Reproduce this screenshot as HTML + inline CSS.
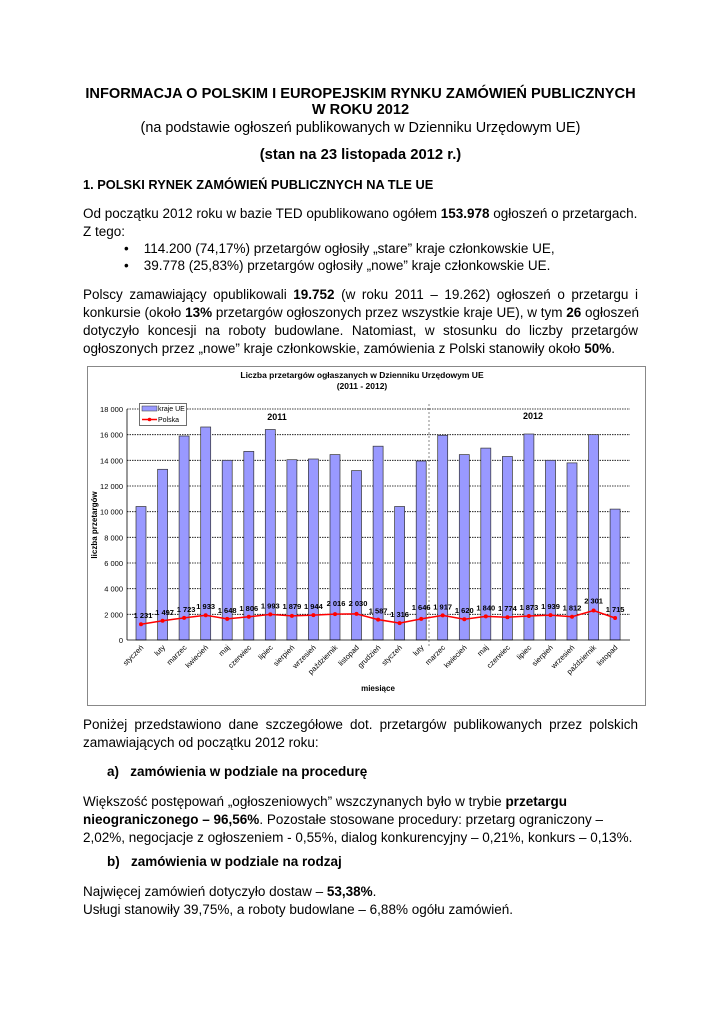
<!DOCTYPE html>
<html><head><meta charset="utf-8"><style>
body{margin:0;background:#fff;width:724px;height:1024px;position:relative;font-family:"Liberation Sans",Arial,sans-serif;color:#000;overflow:hidden}
.l{position:absolute;left:83px;width:555px;font-size:13.5px;line-height:18px;white-space:nowrap}
.c{text-align:center}
.j{text-align:justify;text-align-last:justify}
b{font-weight:bold}
svg{position:absolute;left:0;top:0}
</style></head><body>
<div class="l c" style="top:85px;font-weight:bold;font-size:14.6px">INFORMACJA O POLSKIM I EUROPEJSKIM RYNKU ZAMÓWIEŃ PUBLICZNYCH</div>
<div class="l c" style="top:101px;font-weight:bold;font-size:14.6px">W ROKU 2012</div>
<div class="l c" style="top:119px;font-size:14.4px">(na podstawie ogłoszeń publikowanych w Dzienniku Urzędowym UE)</div>
<div class="l c" style="top:146px;font-weight:bold;font-size:14.8px">(stan na 23 listopada 2012 r.)</div>
<div class="l" style="top:176px;font-weight:bold;font-size:12.8px">1. POLSKI RYNEK ZAMÓWIEŃ PUBLICZNYCH NA TLE UE</div>
<div class="l" style="top:205px">Od początku 2012 roku w bazie TED opublikowano ogółem <b>153.978</b> ogłoszeń o przetargach.</div>
<div class="l" style="top:223px">Z tego:</div>
<div class="l" style="top:240px;left:124px">•&nbsp;&nbsp;&nbsp;&nbsp;114.200 (74,17%) przetargów ogłosiły „stare” kraje członkowskie UE,</div>
<div class="l" style="top:257px;left:124px">•&nbsp;&nbsp;&nbsp;&nbsp;39.778 (25,83%) przetargów ogłosiły „nowe” kraje członkowskie UE.</div>
<div class="l j" style="top:286px">Polscy zamawiający opublikowali <b>19.752</b> (w roku 2011 – 19.262) ogłoszeń o przetargu i</div>
<div class="l j" style="top:304px">konkursie (około <b>13%</b> przetargów ogłoszonych przez wszystkie kraje UE), w tym <b>26</b> ogłoszeń</div>
<div class="l j" style="top:322px">dotyczyło koncesji na roboty budowlane. Natomiast, w stosunku do liczby przetargów</div>
<div class="l" style="top:340px">ogłoszonych przez „nowe” kraje członkowskie, zamówienia z Polski stanowiły około <b>50%</b>.</div>
<div class="l j" style="top:716px">Poniżej przedstawiono dane szczegółowe dot. przetargów publikowanych przez polskich</div>
<div class="l" style="top:734px">zamawiających od początku 2012 roku:</div>
<div class="l" style="top:763px;left:107px;font-weight:bold">a)&nbsp;&nbsp;&nbsp;zamówienia w podziale na procedurę</div>
<div class="l" style="top:793px">Większość postępowań „ogłoszeniowych” wszczynanych było w trybie <b>przetargu</b></div>
<div class="l" style="top:811px"><b>nieograniczonego – 96,56%</b>. Pozostałe stosowane procedury: przetarg ograniczony –</div>
<div class="l" style="top:829px">2,02%, negocjacje z ogłoszeniem - 0,55%, dialog konkurencyjny – 0,21%, konkurs – 0,13%.</div>
<div class="l" style="top:853px;left:107px;font-weight:bold">b)&nbsp;&nbsp;&nbsp;zamówienia w podziale na rodzaj</div>
<div class="l" style="top:883px">Najwięcej zamówień dotyczyło dostaw – <b>53,38%</b>.</div>
<div class="l" style="top:901px">Usługi stanowiły 39,75%, a roboty budowlane – 6,88% ogółu zamówień.</div>

<svg width="724" height="1024" font-family="Liberation Sans, Arial, sans-serif">
<rect x="87.5" y="366.5" width="558" height="339" fill="#fff" stroke="#888" stroke-width="1"/>
<text x="362" y="378" font-size="8.5" font-weight="bold" text-anchor="middle">Liczba przetargów ogłaszanych w Dzienniku Urzędowym UE</text>
<text x="362" y="389" font-size="8.5" font-weight="bold" text-anchor="middle">(2011 - 2012)</text>
<g stroke="#000" stroke-width="0.8" stroke-dasharray="1.5,1">
<line x1="127" x2="630" y1="409" y2="409"/><line x1="127" x2="630" y1="434.7" y2="434.7"/><line x1="127" x2="630" y1="460.3" y2="460.3"/><line x1="127" x2="630" y1="486" y2="486"/><line x1="127" x2="630" y1="511.7" y2="511.7"/><line x1="127" x2="630" y1="537.3" y2="537.3"/><line x1="127" x2="630" y1="563" y2="563"/><line x1="127" x2="630" y1="588.7" y2="588.7"/><line x1="127" x2="630" y1="614.3" y2="614.3"/>
</g>
<line x1="429" x2="429" y1="404" y2="648" stroke="#555" stroke-width="0.7" stroke-dasharray="2,2"/>
<g font-size="7.5" text-anchor="end">
<text x="123" y="412">18 000</text><text x="123" y="437.7">16 000</text><text x="123" y="463.3">14 000</text><text x="123" y="489">12 000</text><text x="123" y="514.7">10 000</text><text x="123" y="540.3">8 000</text><text x="123" y="566">6 000</text><text x="123" y="591.7">4 000</text><text x="123" y="617.3">2 000</text><text x="123" y="643">0</text>
</g>
<text transform="translate(97,525) rotate(-90)" font-size="8" font-weight="bold" text-anchor="middle">liczba przetargów</text>
<g fill="#9999ff" stroke="#333" stroke-width="0.7">
<rect x="136" y="506.5" width="10" height="133.5"/><rect x="157.6" y="469.3" width="10" height="170.7"/><rect x="179.1" y="436" width="10" height="204"/><rect x="200.7" y="427" width="10" height="213"/><rect x="222.2" y="460.3" width="10" height="179.7"/><rect x="243.8" y="451.4" width="10" height="188.6"/><rect x="265.3" y="429.5" width="10" height="210.5"/><rect x="286.9" y="459.7" width="10" height="180.3"/><rect x="308.4" y="459" width="10" height="181"/><rect x="330" y="454.6" width="10" height="185.4"/><rect x="351.5" y="470.6" width="10" height="169.4"/><rect x="373.1" y="446.2" width="10" height="193.8"/><rect x="394.6" y="506.5" width="10" height="133.5"/><rect x="416.2" y="461" width="10" height="179"/><rect x="437.7" y="435.3" width="10" height="204.7"/><rect x="459.3" y="454.6" width="10" height="185.4"/><rect x="480.8" y="448.1" width="10" height="191.9"/><rect x="502.4" y="456.5" width="10" height="183.5"/><rect x="523.9" y="434" width="10" height="206"/><rect x="545.5" y="460.3" width="10" height="179.7"/><rect x="567" y="462.9" width="10" height="177.1"/><rect x="588.6" y="434.7" width="10" height="205.3"/><rect x="610.1" y="509.1" width="10" height="130.9"/>
</g>
<line x1="127" x2="127" y1="409" y2="640" stroke="#000" stroke-width="0.8"/>
<line x1="127" x2="630" y1="640" y2="640" stroke="#000" stroke-width="0.8"/>
<polyline fill="none" stroke="#ff0000" stroke-width="1.5" points="141,624.2 162.6,620.8 184.1,617.9 205.7,615.2 227.2,618.9 248.8,616.8 270.3,614.4 291.9,615.9 313.4,615.1 335,614.1 356.5,613.9 378.1,619.6 399.6,623.1 421.2,618.9 442.7,615.4 464.3,619.2 485.8,616.4 507.4,617.2 528.9,616 550.5,615.1 572,616.7 593.6,610.5 615.1,618"/>
<g fill="#ff0000">
<circle cx="141" cy="624.2" r="2"/><circle cx="162.6" cy="620.8" r="2"/><circle cx="184.1" cy="617.9" r="2"/><circle cx="205.7" cy="615.2" r="2"/><circle cx="227.2" cy="618.9" r="2"/><circle cx="248.8" cy="616.8" r="2"/><circle cx="270.3" cy="614.4" r="2"/><circle cx="291.9" cy="615.9" r="2"/><circle cx="313.4" cy="615.1" r="2"/><circle cx="335" cy="614.1" r="2"/><circle cx="356.5" cy="613.9" r="2"/><circle cx="378.1" cy="619.6" r="2"/><circle cx="399.6" cy="623.1" r="2"/><circle cx="421.2" cy="618.9" r="2"/><circle cx="442.7" cy="615.4" r="2"/><circle cx="464.3" cy="619.2" r="2"/><circle cx="485.8" cy="616.4" r="2"/><circle cx="507.4" cy="617.2" r="2"/><circle cx="528.9" cy="616" r="2"/><circle cx="550.5" cy="615.1" r="2"/><circle cx="572" cy="616.7" r="2"/><circle cx="593.6" cy="610.5" r="2"/><circle cx="615.1" cy="618" r="2"/>
</g>
<g font-size="7.5" font-weight="bold" text-anchor="middle">
<text x="143" y="618">1 231</text><text x="164.6" y="614.8">1 497</text><text x="186.1" y="611.9">1 723</text><text x="205.7" y="609.2">1 933</text><text x="227.2" y="612.9">1 648</text><text x="248.8" y="610.8">1 806</text><text x="270.3" y="608.4">1 993</text><text x="291.9" y="608.9">1 879</text><text x="313.4" y="609.1">1 944</text><text x="336" y="606">2 016</text><text x="358" y="606">2 030</text><text x="378.1" y="613.6">1 587</text><text x="399.6" y="617.1">1 316</text><text x="421.2" y="609.9">1 646</text><text x="442.7" y="609.4">1 917</text><text x="464.3" y="613.2">1 620</text><text x="485.8" y="610.4">1 840</text><text x="507.4" y="611.2">1 774</text><text x="528.9" y="610">1 873</text><text x="550.5" y="609.1">1 939</text><text x="572" y="610.7">1 812</text><text x="593.6" y="603.5">2 301</text><text x="615.1" y="612">1 715</text>
</g>
<text x="277" y="420" font-size="9" font-weight="bold" text-anchor="middle">2011</text>
<text x="533" y="419" font-size="9" font-weight="bold" text-anchor="middle">2012</text>
<rect x="139.5" y="403.5" width="47" height="22" fill="#fff" stroke="#333" stroke-width="0.7"/>
<rect x="142" y="406" width="15" height="5" fill="#9999ff" stroke="#333" stroke-width="0.5"/>
<text x="158" y="411" font-size="7">kraje UE</text>
<line x1="142" x2="157" y1="419.5" y2="419.5" stroke="#f00" stroke-width="1.5"/><circle cx="149.5" cy="419.5" r="1.8" fill="#f00"/>
<text x="158" y="422" font-size="7">Polska</text>
<g font-size="7.5" text-anchor="end">
<text transform="translate(144,648) rotate(-45)">styczeń</text><text transform="translate(165.6,648) rotate(-45)">luty</text><text transform="translate(187.1,648) rotate(-45)">marzec</text><text transform="translate(208.7,648) rotate(-45)">kwiecień</text><text transform="translate(230.2,648) rotate(-45)">maj</text><text transform="translate(251.8,648) rotate(-45)">czerwiec</text><text transform="translate(273.3,648) rotate(-45)">lipiec</text><text transform="translate(294.9,648) rotate(-45)">sierpień</text><text transform="translate(316.4,648) rotate(-45)">wrzesień</text><text transform="translate(338,648) rotate(-45)">październik</text><text transform="translate(359.5,648) rotate(-45)">listopad</text><text transform="translate(381.1,648) rotate(-45)">grudzień</text><text transform="translate(402.6,648) rotate(-45)">styczeń</text><text transform="translate(424.2,648) rotate(-45)">luty</text><text transform="translate(445.7,648) rotate(-45)">marzec</text><text transform="translate(467.3,648) rotate(-45)">kwiecień</text><text transform="translate(488.8,648) rotate(-45)">maj</text><text transform="translate(510.4,648) rotate(-45)">czerwiec</text><text transform="translate(531.9,648) rotate(-45)">lipiec</text><text transform="translate(553.5,648) rotate(-45)">sierpień</text><text transform="translate(575,648) rotate(-45)">wrzesień</text><text transform="translate(596.6,648) rotate(-45)">październik</text><text transform="translate(618.1,648) rotate(-45)">listopad</text>
</g>
<text x="378" y="691" font-size="8" font-weight="bold" text-anchor="middle">miesiące</text>
</svg>
</body></html>
